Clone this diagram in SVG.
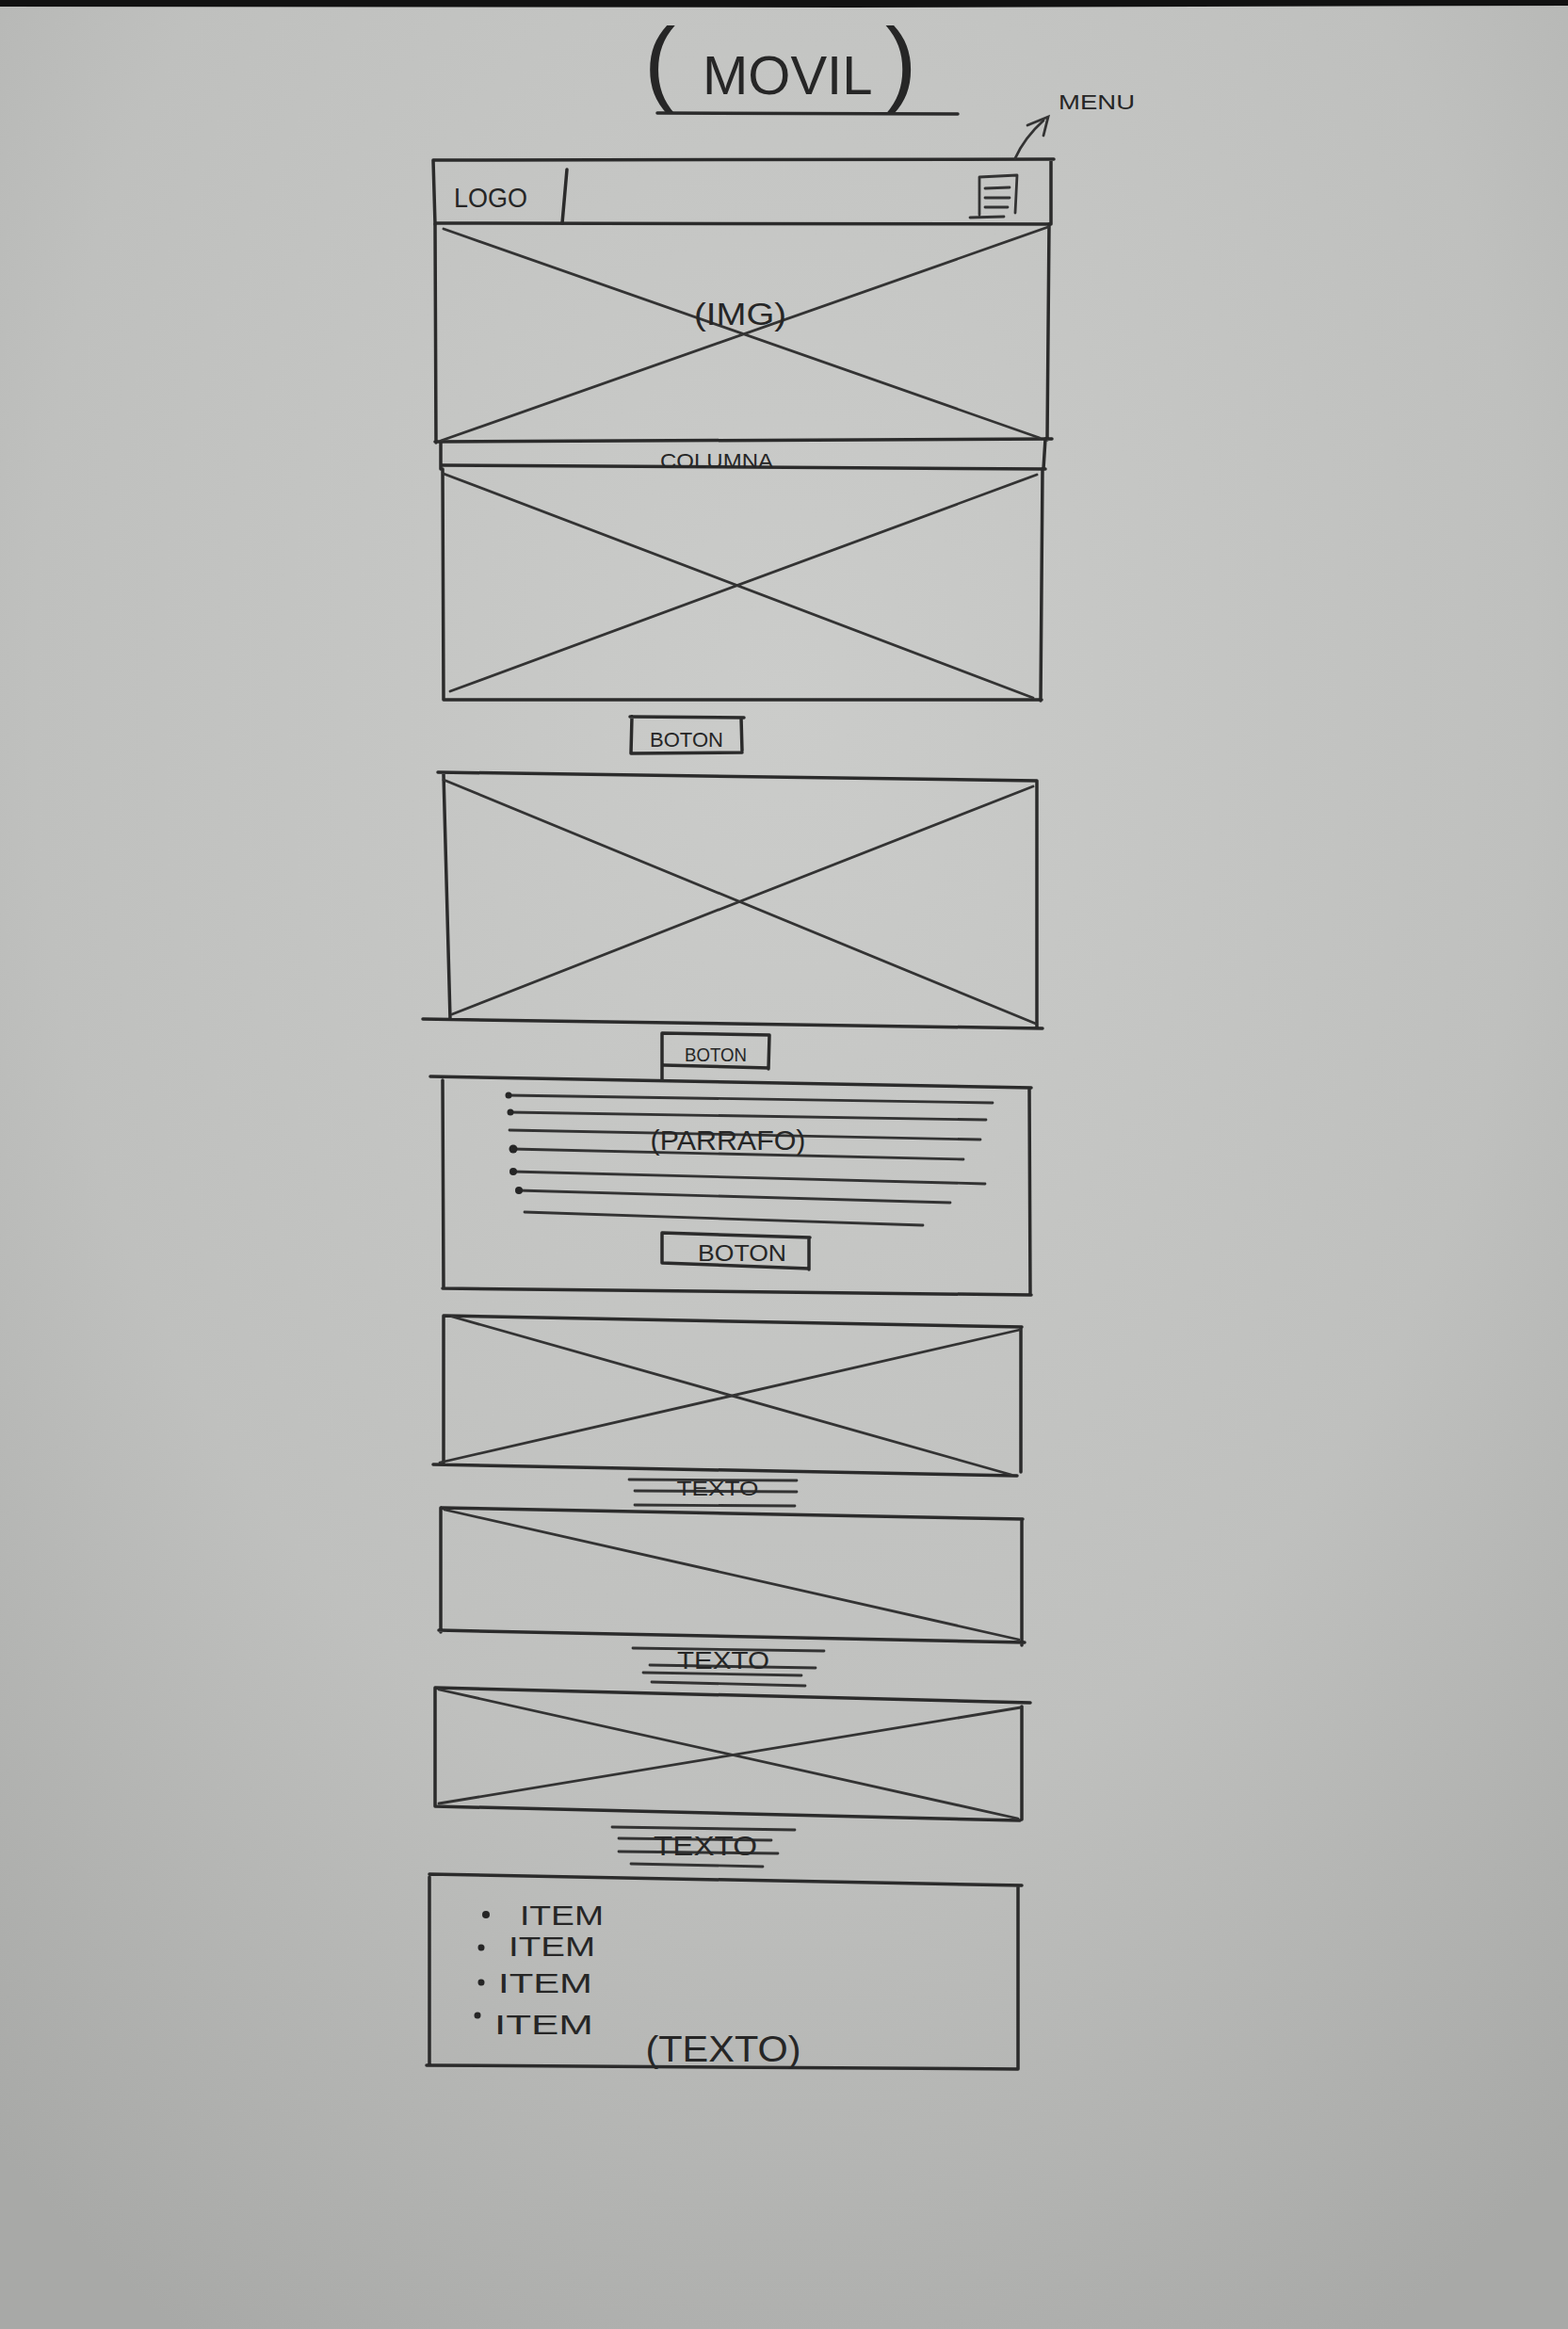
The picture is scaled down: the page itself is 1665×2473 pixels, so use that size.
<svg xmlns="http://www.w3.org/2000/svg" width="1665" height="2473" viewBox="0 0 1665 2473">
<defs>
<radialGradient id="paper" cx="0.5" cy="0.3" r="0.8">
<stop offset="0" stop-color="#cbccca"/>
<stop offset="0.6" stop-color="#bfc0be"/>
<stop offset="1" stop-color="#a8a9a7"/>
</radialGradient>
<style>
.ink{fill:none;stroke:#2b2b2b;stroke-width:3.5;stroke-linecap:round;stroke-linejoin:round}
.thin{fill:none;stroke:#333;stroke-width:2.8;stroke-linecap:round}
.txt{font-family:"Liberation Sans","DejaVu Sans",sans-serif;fill:#262626}
.dot{fill:#262626}
</style>
</defs>
<rect x="0" y="0" width="1665" height="2473" fill="url(#paper)"/>
<path d="M0,0 H1665 V6 L900,8 L0,7 Z" fill="#111"/>

<g id="title">
<text class="txt" y="100"><tspan x="684" font-size="100">(</tspan><tspan x="746" font-size="58">MOVIL</tspan><tspan x="940" font-size="100">)</tspan></text>
<path class="ink" d="M698,120 L1017,121"/>
</g>

<g id="menu-label">
<text class="txt" x="1124" y="116" font-size="22" textLength="81" lengthAdjust="spacingAndGlyphs">MENU</text>
</g>

<g id="navbar">
<path class="ink" d="M460,170 L1119,169 M1116,170 L1116,238 M460,170 L462,238 M462,237 L1116,238"/>
<text class="txt" x="482" y="220" font-size="30" textLength="78" lengthAdjust="spacingAndGlyphs">LOGO</text>
<path class="ink" d="M602,180 L597,237"/>
<g id="menu-icon">
<path class="thin" d="M1040,188 L1080,186 M1040,188 L1040,228 M1080,186 L1078,226 M1046,200 L1072,199 M1046,210 L1072,210 M1046,220 L1070,220 M1030,231 L1066,230"/>
</g>
</g>

<g id="hero-img">
<path class="ink" d="M462,238 L463,470 M1114,238 L1112,467 M462,469 L1117,466"/>
<path class="thin" d="M471,243 L1104,465 M468,468 L1113,241"/>
<text class="txt" x="786" y="345" font-size="34" text-anchor="middle" textLength="98" lengthAdjust="spacingAndGlyphs">(IMG)</text>
</g>

<g id="columna">
<path class="ink" d="M468,470 L468,498 M1110,466 L1108,498 M470,494 L1110,498"/>
<text class="txt" x="761" y="497" font-size="22" text-anchor="middle" textLength="120" lengthAdjust="spacingAndGlyphs">COLUMNA</text>
</g>

<g id="img-2">
<path class="ink" d="M470,498 L471,743 M1107,498 L1105,744 M471,743 L1106,743"/>
<path class="thin" d="M471,503 L1097,741 M478,734 L1101,504"/>
</g>

<g id="boton-1">
<path class="ink" d="M669,761 L790,762 M671,761 L670,800 M787,762 L788,797 M670,800 L788,799"/>
<text class="txt" x="729" y="793" font-size="22" text-anchor="middle" textLength="78" lengthAdjust="spacingAndGlyphs">BOTON</text>
</g>

<g id="img-3">
<path class="ink" d="M465,820 L1101,829 M471,822 L478,1082 M1101,829 L1101,1091 M449,1082 L1107,1092"/>
<path class="thin" d="M471,828 L1100,1087 M480,1077 L1097,835"/>
</g>

<g id="boton-2">
<path class="ink" d="M703,1097 L817,1099 M703,1097 L703,1146 M817,1099 L816,1135 M705,1131 L816,1134"/>
<text class="txt" x="760" y="1127" font-size="20" text-anchor="middle" textLength="66" lengthAdjust="spacingAndGlyphs">BOTON</text>
</g>

<g id="parrafo">
<path class="ink" d="M457,1143 L1095,1155 M470,1147 L471,1368 M1093,1155 L1094,1375 M470,1368 L1095,1375"/>
<path class="thin" d="M539,1163 L1054,1171 M541,1181 L1047,1189 M541,1200 L1041,1210 M544,1220 L1023,1231 M544,1244 L1046,1257 M550,1264 L1009,1277 M557,1287 L980,1301"/>
<circle class="dot" cx="540" cy="1163" r="3.5"/>
<circle class="dot" cx="542" cy="1181" r="3.5"/>
<circle class="dot" cx="545" cy="1220" r="4.5"/>
<circle class="dot" cx="545" cy="1244" r="4"/>
<circle class="dot" cx="551" cy="1264" r="4"/>
<text class="txt" x="773" y="1221" font-size="30" text-anchor="middle" textLength="165" lengthAdjust="spacingAndGlyphs">(PARRAFO)</text>
<g id="boton-3">
<path class="ink" d="M703,1309 L860,1314 M703,1309 L703,1341 M859,1314 L859,1348 M703,1341 L859,1347"/>
<text class="txt" x="788" y="1339" font-size="24" text-anchor="middle" textLength="94" lengthAdjust="spacingAndGlyphs">BOTON</text>
</g>
</g>

<g id="img-4">
<path class="ink" d="M471,1397 L1085,1409 M471,1397 L471,1553 M1084,1410 L1084,1563 M460,1555 L1080,1567"/>
<path class="thin" d="M480,1398 L1074,1566 M467,1553 L1083,1412"/>
</g>

<g id="texto-1">
<path class="thin" d="M668,1571 L846,1572 M674,1583 L846,1584 M674,1598 L844,1599"/>
<text class="txt" x="762" y="1588" font-size="22" text-anchor="middle" textLength="87" lengthAdjust="spacingAndGlyphs">TEXTO</text>
</g>

<g id="img-5">
<path class="ink" d="M469,1601 L1086,1613 M468,1601 L468,1733 M1085,1613 L1085,1747 M466,1731 L1088,1744"/>
<path class="thin" d="M472,1603 L1082,1741"/>
</g>

<g id="texto-2">
<path class="thin" d="M672,1750 L875,1753 M690,1768 L866,1771 M683,1776 L851,1779 M692,1786 L855,1790"/>
<text class="txt" x="768" y="1772" font-size="26" text-anchor="middle" textLength="98" lengthAdjust="spacingAndGlyphs">TEXTO</text>
</g>

<g id="img-6">
<path class="ink" d="M462,1792 L1094,1808 M462,1792 L462,1918 M1085,1812 L1085,1932 M462,1918 L1083,1933"/>
<path class="thin" d="M466,1794 L1081,1931 M466,1915 L1084,1813"/>
</g>

<g id="texto-3">
<path class="thin" d="M650,1940 L844,1943 M657,1952 L819,1954 M657,1966 L826,1968 M670,1979 L810,1982"/>
<text class="txt" x="749" y="1970" font-size="30" text-anchor="middle" textLength="110" lengthAdjust="spacingAndGlyphs">TEXTO</text>
</g>

<g id="list">
<path class="ink" d="M456,1990 L1085,2002 M456,1993 L456,2193 M1081,2002 L1081,2197 M453,2193 L1081,2197"/>
<circle class="dot" cx="516" cy="2033" r="4"/>
<circle class="dot" cx="511" cy="2068" r="3.5"/>
<circle class="dot" cx="511" cy="2105" r="3.5"/>
<circle class="dot" cx="507" cy="2140" r="3.5"/>
<text class="txt" x="552" y="2044" font-size="30" textLength="89" lengthAdjust="spacingAndGlyphs">ITEM</text>
<text class="txt" x="540" y="2077" font-size="30" textLength="92" lengthAdjust="spacingAndGlyphs">ITEM</text>
<text class="txt" x="529" y="2116" font-size="30" textLength="100" lengthAdjust="spacingAndGlyphs">ITEM</text>
<text class="txt" x="525" y="2160" font-size="30" textLength="105" lengthAdjust="spacingAndGlyphs">ITEM</text>
<text class="txt" x="768" y="2189" font-size="38" text-anchor="middle" textLength="165" lengthAdjust="spacingAndGlyphs">(TEXTO)</text>
</g>

<g id="connectors">
<path class="thin" d="M1078,168 Q1088,146 1108,128"/>
<path class="thin" d="M1091,133 L1113,124 L1108,144"/>
</g>
</svg>
